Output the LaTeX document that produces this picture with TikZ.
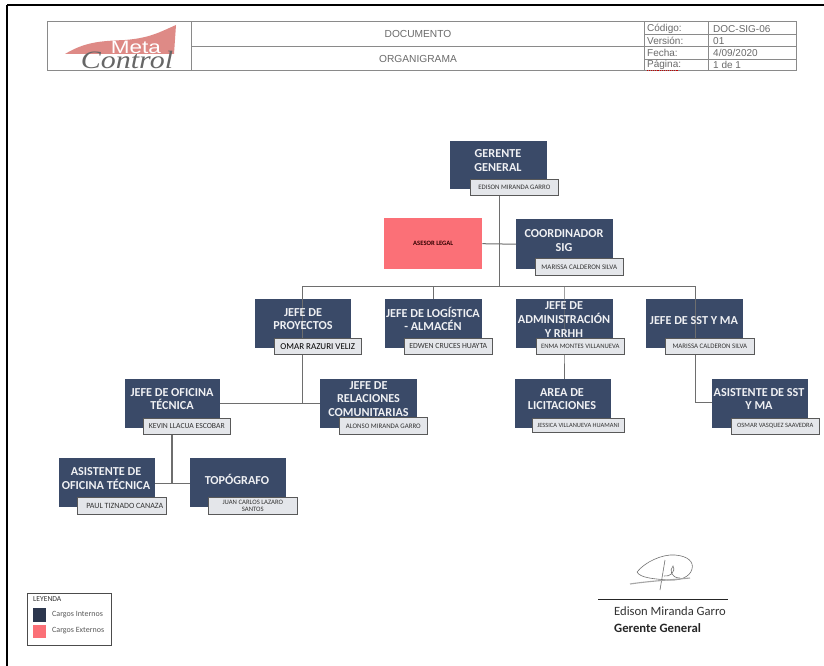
\documentclass[tikz,border=0pt]{standalone}
\usepackage{fontspec}
\setmainfont{Carlito}
\newfontfamily\hdr{Liberation Sans}
\newfontfamily\logofont{Liberation Serif}
\definecolor{navy}{HTML}{3A4A68}
\definecolor{salmon}{HTML}{FB7077}
\definecolor{namefill}{HTML}{E4E6EA}
\definecolor{wire}{HTML}{6E6E6E}
\definecolor{tblgray}{HTML}{8A8A8A}
\definecolor{hdrtext}{HTML}{6A6A6A}
\definecolor{logored}{HTML}{DE8A86}
\tikzset{
 x=1pt,y=-1pt,
 role/.style={fill=navy,draw=none,inner sep=0pt,anchor=north west},
 roletext/.style={text=white!92!navy,font=\fontsize{12.2}{13.7}\selectfont\bfseries,align=center,inner sep=0pt},
 ext/.style={fill=salmon,draw=none,inner sep=0pt,anchor=north west,font=\fontsize{6.6}{7}\selectfont\bfseries,text=black!80!red},
 who/.style={fill=namefill,draw=black!65,line width=.6pt,inner sep=0pt,align=center,anchor=north west,text=black!80,font=\fontsize{#1}{7.5}\selectfont},
 who/.default=6.9,
 wireline/.style={draw=wire,line width=1pt},
 tbl/.style={draw=tblgray,line width=.7pt},
 hcell/.style={font=\hdr\fontsize{10.2}{12}\selectfont,text=hdrtext,inner sep=0pt},
 tcell/.style={font=\hdr\fontsize{10}{11}\selectfont,text=hdrtext,anchor=west,inner sep=0pt},
 legtext/.style={anchor=west,inner sep=0pt,font=\fontsize{8}{9}\selectfont,text=black!65},
}
\begin{document}
\begin{tikzpicture}
\useasboundingbox (0,0) rectangle (824,666);
\fill[white] (0,0) rectangle (824,666);
\draw[black,line width=2pt] (7,5) -- (824,5) (7,5) -- (7,666);
% header
\draw[tbl] (47,21.5) rectangle (796,70.5);
\draw[tbl] (191,21.5) -- (191,70.5) (644,21.5) -- (644,70.5) (708,21.5) -- (708,70.5) (191,46.5) -- (796,46.5) (644,34.5) -- (796,34.5) (644,59) -- (796,59);
\fill[logored] (65,54) .. controls (85,42) and (100,41) .. (125,40) .. controls (150,38) and (160,32) .. (176,25) -- (174,54) -- cycle;
\node[inner sep=0pt,text=white,font=\hdr\fontsize{18}{18}\selectfont] (meta) at (136,47) {\scalebox{1.25}[1]{Meta}};
\node[inner sep=0pt,text=black!60,font=\logofont\itshape\fontsize{25}{25}\selectfont] (control) at (127,60) {\scalebox{1.2}[1]{Control}};
\node[hcell] (docu) at (418,34) {DOCUMENTO};
\node[hcell] (orga) at (418,58.5) {ORGANIGRAMA};
\node[tcell] (c1) at (647,29) {Código:};
\node[tcell] (c2) at (647,41) {Versión:};
\node[tcell] (c3) at (647,53) {Fecha:};
\node[tcell] (c4) at (647,65) {Página:};
\draw[red!75!black,line width=.9pt,densely dotted] (647,70) -- (678,70);
\node[tcell] (v1) at (713,29) {DOC-SIG-06};
\node[tcell] (v2) at (713,41) {01};
\node[tcell] (v3) at (713,53) {4/09/2020};
\node[tcell] (v4) at (713,65) {1 de 1};
% coordinates
\coordinate (busL) at (302,286);
\coordinate (busR) at (695,286);
\coordinate (busC) at (499,286);
\coordinate (busB) at (433,286);
\coordinate (busD) at (564,286);
\coordinate (midT) at (302,403);
\coordinate (sstE) at (695,402);
\coordinate (ofiM) at (172,483);
% role boxes
\node[role,minimum width=97pt,minimum height=48pt] (gg) at (450,141) {};
\node[ext,minimum width=98pt,minimum height=51pt] (legal) at (384,218) {ASESOR LEGAL};
\node[role,minimum width=97pt,minimum height=50pt] (sig) at (516,219) {};
\node[role,minimum width=96pt,minimum height=49pt] (proy) at (255,299) {};
\node[role,minimum width=97pt,minimum height=49pt] (logi) at (385,299) {};
\node[role,minimum width=97pt,minimum height=49pt] (admi) at (516,299) {};
\node[role,minimum width=97pt,minimum height=49pt] (sst) at (646,299) {};
\node[role,minimum width=97pt,minimum height=49pt] (rela) at (320,379) {};
\node[role,minimum width=96pt,minimum height=49pt] (area) at (515,379) {};
\node[role,minimum width=96pt,minimum height=49pt] (asst) at (712,379) {};
\node[role,minimum width=95pt,minimum height=49pt] (ofi) at (125,379) {};
\node[role,minimum width=96pt,minimum height=49pt] (aofi) at (59,458) {};
\node[role,minimum width=96pt,minimum height=49pt] (topo) at (190,458) {};
% connectors
\draw[wireline] (gg.south -| busC) -- (busC);
\draw[wireline] (legal.east) -- (sig.west);
\draw[wireline] (busL) -- (busR);
\draw[wireline] (busL) -- (midT);
\draw[wireline] (busB) -- (logi.north -| busB);
\draw[wireline] (busD) -- (admi.south -| busD) -- (area.north -| busD);
\draw[wireline] (busR) -- (sstE) -- (asst.west |- sstE);
\draw[wireline] (ofi.east |- midT) -- (rela.west |- midT);
\draw[wireline,line width=1.4pt] (ofiM |- ofi.south) -- (ofiM);
\draw[wireline] (aofi.east |- ofiM) -- (topo.west |- ofiM);
% role texts
\node[roletext] (t1) at (498,160.5) {GERENTE\\GENERAL};
\node[roletext] (t2) at (564,240.5) {COORDINADOR\\SIG};
\node[roletext] (t3) at (303,319) {JEFE DE\\PROYECTOS};
\node[roletext] (t4) at (433,319) {JEFE DE LOGÍSTICA\\- ALMACÉN};
\node[roletext] (t5) at (564,319.5) {JEFE DE\\ADMINISTRACIÓN\\Y RRHH};
\node[roletext] (t6) at (694,321) {JEFE DE SST Y MA};
\node[roletext] (t7) at (368.5,399) {JEFE DE\\RELACIONES\\COMUNITARIAS};
\node[roletext] (t8) at (562,399) {AREA DE\\LICITACIONES};
\node[roletext] (t9) at (759,399) {ASISTENTE DE SST\\Y MA};
\node[roletext] (t10) at (172,399) {JEFE DE OFICINA\\TÉCNICA};
\node[roletext] (t11) at (106,478.5) {ASISTENTE DE\\OFICINA TÉCNICA};
\node[roletext] (t12) at (237,479) {TOPÓGRAFO};
% names
\node[who=6.8,minimum width=88pt,minimum height=16pt] (n1) at (470,179) {EDISON MIRANDA GARRO};
\node[who=7,minimum width=88pt,minimum height=17pt] (n2) at (535,258) {MARISSA CALDERON SILVA};
\node[who=9,minimum width=87pt,minimum height=16pt,text=black] (n3) at (274,338) {OMAR RAZURI VELIZ};
\node[who=7.8,minimum width=88pt,minimum height=16pt] (n4) at (404,338) {EDWEN CRUCES HUAYTA};
\node[who=6.7,minimum width=88pt,minimum height=16pt] (n5) at (536,338) {ENMA MONTES VILLANUEVA};
\node[who=6.9,minimum width=89pt,minimum height=16pt] (n6) at (665,338) {MARISSA CALDERON SILVA};
\node[who=6.9,minimum width=88pt,minimum height=17pt] (n7) at (339,417) {ALONSO MIRANDA GARRO};
\node[who=6.4,minimum width=92pt,minimum height=14pt] (n8) at (532,418) {JESSICA VILLANUEVA HUAMANI};
\node[who=6.5,minimum width=88pt,minimum height=16pt] (n9) at (731,418) {OSMAR VASQUEZ SAAVEDRA};
\node[who=7.7,minimum width=87pt,minimum height=16pt] (n10) at (143,418) {KEVIN LLACUA ESCOBAR};
\node[who=8,minimum width=89pt,minimum height=17pt] (n11) at (77,497) {\hspace*{6pt}PAUL TIZNADO CANAZA};
\node[who=6.7,minimum width=89pt,minimum height=17pt] (n12) at (208,497) {JUAN CARLOS LAZARO\\SANTOS};
% legend
\node[draw=black!70,line width=.8pt,minimum width=84pt,minimum height=52pt,anchor=north west,inner sep=0pt] (leg) at (27,593) {};
\node[legtext,font=\fontsize{7.6}{9}\selectfont,text=black!80] (lt) at (33,599) {LEYENDA};
\node[fill=navy!75!black,minimum width=13pt,minimum height=14pt,inner sep=0pt] (l1) at (39.5,615) {};
\node[legtext] (l1t) at (52,615) {Cargos Internos};
\node[fill=salmon,minimum width=13pt,minimum height=13pt,inner sep=0pt] (l2) at (39.5,631.5) {};
\node[legtext] (l2t) at (52,631) {Cargos Externos};
% signature
\draw[black!55,line width=.6pt] (637,572) .. controls (645,562) and (662,554) .. (675,555) .. controls (688,556) and (694,562) .. (692,569) .. controls (690,577) and (680,581) .. (668,580) .. controls (655,579) and (640,578) .. (637,572);
\draw[black!55,line width=.6pt] (665,560) -- (660,590);
\draw[black!55,line width=.6pt] (664,576) .. controls (670,577) and (676,572) .. (673,566) .. controls (669,570) and (671,578) .. (680,578);
\draw[black!35,line width=1.1pt] (630,584) .. controls (650,581) and (670,580) .. (690,578);
\draw[black!85,line width=.9pt] (598,599) -- (728,599);
\node[anchor=west,inner sep=0pt,font=\fontsize{12.6}{14}\selectfont,text=black!80] (sn) at (614,611.5) {Edison Miranda Garro};
\node[anchor=west,inner sep=0pt,font=\fontsize{12.7}{14}\selectfont\bfseries,text=black!85] (sg) at (614,628) {Gerente General};
\end{tikzpicture}
\end{document}
